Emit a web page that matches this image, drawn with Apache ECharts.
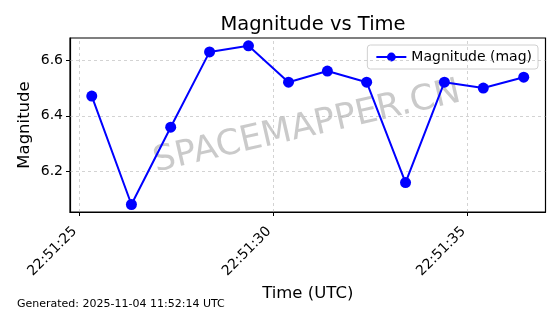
<!DOCTYPE html>
<html>
<head>
<meta charset="utf-8">
<script src="https://cdn.jsdelivr.net/npm/echarts@6/dist/echarts.min.js"></script>
<style>html,body{margin:0;padding:0;background:#fff}#c{width:560px;height:314px}</style>
</head>
<body>
<div id="c"></div>
<script>
// seconds past 22:51:00 UTC
const timeSec = [25.33, 26.35, 27.36, 28.36, 29.36, 30.39, 31.39, 32.40, 33.40, 34.40, 35.40, 36.44];
const magnitude = [6.471, 6.081, 6.359, 6.630, 6.652, 6.521, 6.561, 6.521, 6.160, 6.521, 6.500, 6.539];
const xTicks = [25, 30, 35];
const yTicks = [6.2, 6.4, 6.6];
const timePrefix = '22:51:';
const seriesName = 'Magnitude (mag)';
const footer = 'Generated: 2025-11-04 11:52:14 UTC';

const FONT = 'DejaVu Sans';
const chart = echarts.init(document.getElementById('c'), null, {renderer: 'canvas'});
const data = timeSec.map((t, i) => [t, magnitude[i]]);
const gridDash = {color: '#b0b0b0', width: 0.8, type: [3, 3], opacity: 0.7};

chart.setOption({
  animation: false,
  backgroundColor: '#fff',
  title: {
    text: 'Magnitude vs Time', left: 308, top: 10, textAlign: 'center',
    textStyle: {fontFamily: FONT, fontSize: 19.5, fontWeight: 'normal', color: '#000'}
  },
  grid: {left: 70, right: 14.5, top: 38, bottom: 102, show: true, borderColor: '#000', borderWidth: 1.2, containLabel: false},
  legend: {
    right: 22, top: 45, padding: [5, 6, 5, 8],
    borderColor: '#d0d0d0', borderWidth: 1, borderRadius: 3, backgroundColor: 'rgba(255,255,255,0.8)',
    itemWidth: 30, itemHeight: 11, itemGap: 6,
    textStyle: {fontFamily: FONT, fontSize: 14, color: '#000'},
    data: [seriesName]
  },
  xAxis: {
    type: 'value', min: 24.77, max: 37.0,
    name: 'Time (UTC)', nameLocation: 'middle', nameGap: 67,
    nameTextStyle: {fontFamily: FONT, fontSize: 16.5, color: '#000'},
    axisLine: {show: true, lineStyle: {color: '#000', width: 1.2}},
    axisTick: {show: true, length: 4, lineStyle: {color: '#000'}, customValues: xTicks},
    axisLabel: {
      customValues: xTicks, rotate: 45, margin: 13, padding: [0, 6, 0, 0],
      fontFamily: FONT, fontSize: 14, color: '#000',
      formatter: v => timePrefix + String(Math.round(v)).padStart(2, '0')
    },
    splitLine: {show: false}
  },
  yAxis: {
    type: 'value', min: 6.054, max: 6.680,
    name: 'Magnitude', nameLocation: 'middle', nameGap: 37, nameMoveOverlap: false,
    nameTextStyle: {fontFamily: FONT, fontSize: 16.5, color: '#000'},
    axisLine: {show: true, lineStyle: {color: '#000', width: 1.2}},
    axisTick: {show: true, length: 4, lineStyle: {color: '#000'}, customValues: yTicks},
    axisLabel: {customValues: yTicks, margin: 7, fontFamily: FONT, fontSize: 14, color: '#000',
      formatter: v => v.toFixed(1)},
    splitLine: {show: false}
  },
  graphic: [
    {type: 'text', left: 150, top: 75, rotation: 13 * Math.PI / 180, z: 0,
      style: {text: 'SPACEMAPPER.CN', fontFamily: FONT, fontSize: 35, fill: 'rgba(128,128,128,0.42)'}},
    {type: 'text', left: 17, top: 299,
      style: {text: footer, fontFamily: FONT, fontSize: 11, fill: '#000'}}
  ],
  series: [
    {
      type: 'line', name: 'grid', data: [], silent: true, z: 1,
      markLine: {
        silent: true, symbol: 'none', label: {show: false}, animation: false,
        lineStyle: gridDash,
        data: xTicks.map(v => ({xAxis: v})).concat(yTicks.map(v => ({yAxis: v})))
      }
    },
    {
      type: 'line', name: seriesName, data: data, z: 5,
      symbol: 'circle', symbolSize: 11,
      lineStyle: {color: '#0000ff', width: 2},
      itemStyle: {color: '#0000ff'}
    }
  ]
});
</script>
</body>
</html>
